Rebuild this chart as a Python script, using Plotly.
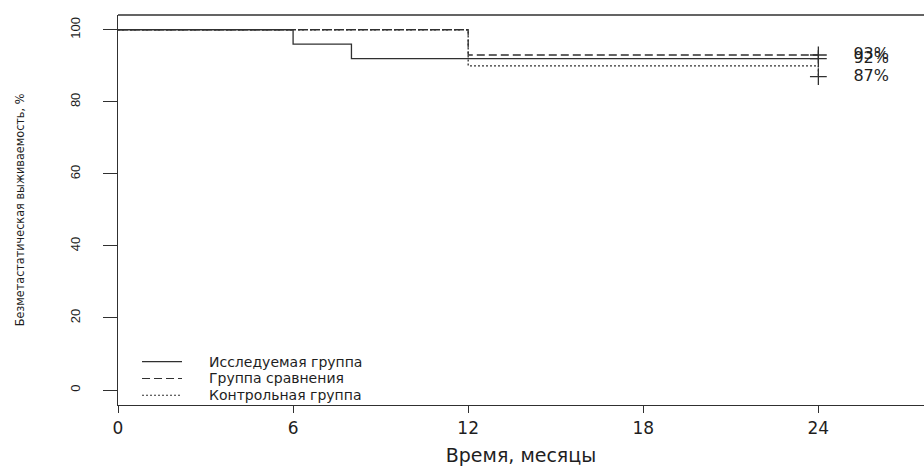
import plotly.graph_objects as go

# Data
study_t = [0, 6, 8, 24]
study_s = [100, 96, 92, 92]
comp_t = [0, 12, 24]
comp_s = [100, 93, 93]
ctrl_t = [0, 12, 24, 24]
ctrl_s = [100, 90, 90, 87]

names = ["Исследуемая группа", "Группа сравнения", "Контрольная группа"]
censor_t = [24, 24, 24]
censor_s = [92, 93, 87]
end_labels = ["92%", "93%", "87%"]
x_ticks = [0, 6, 12, 18, 24]
y_ticks = [0, 20, 40, 60, 80, 100]

LC = "#303030"
TC = "#1e1e1e"
HFONT = "DejaVu Sans"
dashes = ["solid", "8px,4px", "2px,2px"]

fig = go.Figure()
for t, s, nm, dash in [(study_t, study_s, names[0], dashes[0]),
                       (comp_t, comp_s, names[1], dashes[1]),
                       (ctrl_t, ctrl_s, names[2], dashes[2])]:
    fig.add_trace(go.Scatter(x=t, y=s, mode="lines", name=nm, showlegend=False,
                             line=dict(shape="hv", color=LC, width=1.3, dash=dash)))

fig.add_trace(go.Scatter(x=censor_t, y=censor_s, mode="markers", showlegend=False,
                         marker=dict(symbol="cross-thin", size=12,
                                     line=dict(color=LC, width=1.3))))
fig.add_trace(go.Scatter(x=[t + 1.2 for t in censor_t], y=censor_s, mode="text",
                         text=end_labels, textposition="middle right",
                         textfont=dict(family=HFONT, size=16, color=TC),
                         showlegend=False, cliponaxis=False))

# top border of the box (right side is cut off in the reference)
fig.add_shape(type="line", xref="paper", yref="paper", x0=0, x1=1, y0=1, y1=1,
              line=dict(color=LC, width=1.3))

# legend drawn like R's legend(): line sample + label
leg_y = [0.111, 0.068, 0.025]
for nm, dash, yy in zip(names, dashes, leg_y):
    fig.add_shape(type="line", xref="paper", yref="paper", x0=0.0298, x1=0.0794,
                  y0=yy, y1=yy, line=dict(color=LC, width=1.2, dash=dash))
    fig.add_annotation(xref="paper", yref="paper", x=0.1104, y=yy, text=nm,
                       showarrow=False, xanchor="left", yanchor="middle",
                       font=dict(family=HFONT, size=14, color=TC))

fig.update_layout(
    width=924, height=466,
    margin=dict(l=118, r=0, t=15, b=61),
    paper_bgcolor="white", plot_bgcolor="white",
    showlegend=False,
    xaxis=dict(range=[0, 27.62], tickvals=x_ticks, showgrid=False, zeroline=False,
               automargin=False,
               showline=True, linecolor=LC, linewidth=1.3,
               ticks="outside", ticklen=7, tickcolor=LC, tickwidth=1.3,
               tickfont=dict(family=HFONT, size=17, color=TC),
               title=dict(text="Время, месяцы", standoff=18,
                          font=dict(family=HFONT, size=19, color=TC))),
    yaxis=dict(range=[-4.16, 104.1], tickvals=y_ticks, showgrid=False, zeroline=False,
               automargin=False,
               showline=True, linecolor=LC, linewidth=1.3,
               ticks="outside", ticklen=14, tickcolor=LC, tickwidth=1.3,
               tickangle=-90, ticklabelstandoff=18,
               tickfont=dict(family="Liberation Sans", size=13, color=TC),
               title=dict(text="Безметастатическая выживаемость, %", standoff=40,
                          font=dict(family="Liberation Sans Narrow, DejaVu Sans Condensed, Liberation Sans",
                                    size=12.5, color=TC))),
)

fig.write_html("out.html")
